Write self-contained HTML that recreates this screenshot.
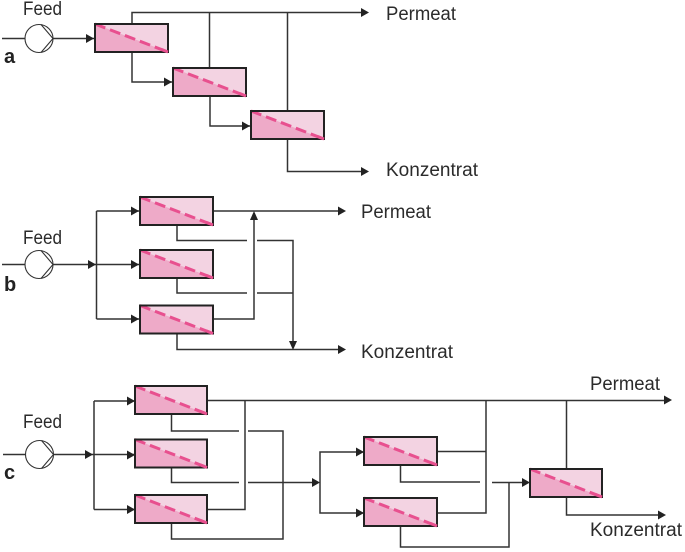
<!DOCTYPE html>
<html><head><meta charset="utf-8"><style>
html,body{margin:0;padding:0;background:#fff}
svg{display:block}
text{font-family:"Liberation Sans",sans-serif;font-size:19px;fill:#2b2b2b}
.b{font-weight:bold;font-size:20px;fill:#222}
.l{fill:none;stroke:#333;stroke-width:1.5}
.p{fill:none;stroke:#333;stroke-width:1.1}
</style></head><body>
<svg width="685" height="552" viewBox="0 0 685 552" xmlns="http://www.w3.org/2000/svg">
<defs>
<g id="box">
<rect x="0" y="0" width="73" height="28" fill="#f3d3e2"/>
<polygon points="0,0 73,28 0,28" fill="#eeaac8"/>
<line x1="0" y1="0" x2="73" y2="28" stroke="#e8508f" stroke-width="3" stroke-dasharray="11 5"/>
<rect x="0" y="0" width="73" height="28" fill="none" stroke="#222" stroke-width="2"/>
<line x1="66" y1="25.3" x2="73" y2="28" stroke="#e8508f" stroke-width="3"/>
</g>
<g id="boxc">
<rect x="0" y="0" width="72" height="28" fill="#f3d3e2"/>
<polygon points="0,0 72,28 0,28" fill="#eeaac8"/>
<line x1="0" y1="0" x2="72" y2="28" stroke="#e8508f" stroke-width="3" stroke-dasharray="11 5"/>
<rect x="0" y="0" width="72" height="28" fill="none" stroke="#222" stroke-width="2"/>
<line x1="65" y1="25.3" x2="72" y2="28" stroke="#e8508f" stroke-width="3"/>
</g>
<g id="pump">
<circle cx="0" cy="0" r="14" fill="#fff" stroke="#333" stroke-width="1.1"/>
<path d="M2,-14L14,0L2,14" class="p"/>
</g>
<path id="ar" d="M0,0L-8,-4.5V4.5Z" fill="#222"/>
</defs>

<!-- a -->
<text x="23" y="15" textLength="39" lengthAdjust="spacingAndGlyphs">Feed</text>
<text x="4" y="63" class="b">a</text>
<path class="l" d="M2,38.5H25M53,38.5H94"/>
<use href="#pump" x="39" y="38.5"/>
<use href="#ar" x="94" y="38.5"/>
<path class="l" d="M132,24V12.5H366M209.5,12.5V68M287.5,12.5V111"/>
<path class="l" d="M132,52V82H172M210,96V126H250M287.5,139V171.5H366"/>
<use href="#ar" x="369" y="12.5"/>
<use href="#ar" x="172" y="82"/>
<use href="#ar" x="250" y="126"/>
<use href="#ar" x="369" y="171.5"/>
<use href="#box" x="95" y="24"/>
<use href="#box" x="173" y="68"/>
<use href="#box" x="251" y="111"/>
<text x="386" y="20" textLength="70" lengthAdjust="spacingAndGlyphs">Permeat</text>
<text x="386" y="176" textLength="92" lengthAdjust="spacingAndGlyphs">Konzentrat</text>

<!-- b -->
<text x="23" y="244" textLength="39" lengthAdjust="spacingAndGlyphs">Feed</text>
<text x="4" y="291" class="b">b</text>
<path class="l" d="M2,264.5H25M53,264.5H139M96.5,211V319M96.5,211H139M96.5,319H139"/>
<use href="#pump" x="39" y="264.5"/>
<use href="#ar" x="96" y="264.5"/>
<use href="#ar" x="139" y="211"/>
<use href="#ar" x="139" y="264.5"/>
<use href="#ar" x="139" y="319"/>
<path class="l" d="M214,211H343M214,319H254V213"/>
<path d="M254,211L250,220H258Z" fill="#222"/>
<use href="#ar" x="346" y="211"/>
<path class="l" d="M177,224V240.5H247M257,240.5H293V347M177,277V293H247M257,293H293M177,333V349.5H343"/>
<path d="M293,350L289,341H297Z" fill="#222"/>
<use href="#ar" x="346" y="349.5"/>
<use href="#box" x="140" y="197"/>
<use href="#box" x="140" y="250"/>
<use href="#box" x="140" y="305.5"/>
<text x="361" y="218" textLength="70" lengthAdjust="spacingAndGlyphs">Permeat</text>
<text x="361" y="358" textLength="92" lengthAdjust="spacingAndGlyphs">Konzentrat</text>

<!-- c -->
<text x="23" y="428" textLength="39" lengthAdjust="spacingAndGlyphs">Feed</text>
<text x="4" y="479" class="b">c</text>
<path class="l" d="M3,454.5H26M53,454.5H134M94,401V509.5M94,401H134M94,509.5H134"/>
<use href="#pump" x="39.5" y="454.5"/>
<use href="#ar" x="93" y="454.5"/>
<use href="#ar" x="135" y="401"/>
<use href="#ar" x="135" y="455"/>
<use href="#ar" x="135" y="509.5"/>
<path class="l" d="M207,400.5H668M245,400.5V509.5H207"/>
<path class="l" d="M171.5,414V431H239M248,431H283V539H171.5V523M171.5,467V482.5H239M248,482.5H318"/>
<use href="#ar" x="320" y="482.5"/>
<path class="l" d="M363,452H320V513H363"/>
<use href="#ar" x="364" y="452"/>
<use href="#ar" x="364" y="513"/>
<path class="l" d="M437,451.5H486M437,513H486V400.5"/>
<path class="l" d="M400.5,465V482H480M492,482.5H528M400.5,526V547H509V482.5"/>
<use href="#ar" x="530" y="482.5"/>
<path class="l" d="M566.5,400.5V469M566.5,497V515H663"/>
<use href="#ar" x="672" y="400"/>
<use href="#ar" x="666" y="515"/>
<use href="#boxc" x="135" y="386"/>
<use href="#boxc" x="135" y="439.5"/>
<use href="#boxc" x="135" y="495"/>
<use href="#box" x="364" y="437"/>
<use href="#box" x="364" y="498"/>
<use href="#boxc" x="530" y="469"/>
<text x="590" y="390" textLength="70" lengthAdjust="spacingAndGlyphs">Permeat</text>
<text x="590" y="536" textLength="92" lengthAdjust="spacingAndGlyphs">Konzentrat</text>
</svg>
</body></html>
